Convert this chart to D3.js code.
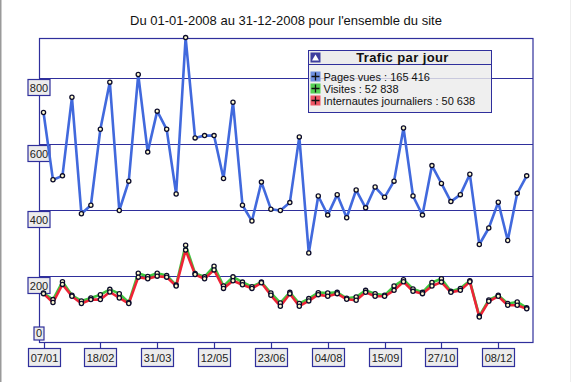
<!DOCTYPE html>
<html>
<head>
<meta charset="utf-8">
<script src="https://d3js.org/d3.v7.min.js"></script>
<style>
  body { margin: 0; background: #fff; }
  svg { display: block; font-family: "Liberation Sans", Arial, sans-serif; }
</style>
</head>
<body>
<svg></svg>
<script>
const width = 573, height = 382;

// weekly points, first monday 07/01/2008
const weeks = d3.timeMonday.range(new Date(2008, 0, 7), new Date(2009, 0, 1));
const pagesVues = [697,493,505,743,390,416,646,789,400,489,812,577,701,646,450,924,620,627,627,497,728,416,368,486,404,400,424,623,271,444,386,448,378,462,408,471,440,489,650,444,386,536,482,427,448,510,297,347,425,309,452,505];
const visites = [150,130,184,143,126,135,145,161,148,121,210,200,210,203,174,295,209,199,231,171,199,183,169,183,150,120,152,118,133,151,150,152,134,138,158,148,143,171,190,162,152,182,193,155,164,187,80,129,143,118,123,105];
const internautes = [148,121,176,140,118,130,130,153,135,118,198,193,201,198,171,280,206,193,220,164,187,175,164,181,143,110,148,110,126,145,140,148,131,128,152,140,140,158,184,155,148,171,183,152,158,184,77,125,140,113,113,102];

const xTickLabels = ["07/01","18/02","31/03","12/05","23/06","04/08","15/09","27/10","08/12"];
const yTicks = [0, 200, 400, 600, 800];
const legendTitle = "Trafic par jour";
const legendLabels = ["Pages vues : 165 416", "Visites : 52 838", "Internautes journaliers : 50 638"];
const title = "Du 01-01-2008 au 31-12-2008 pour l'ensemble du site";

const navy = "#2f2f9c";
const colors = { pages: "#4169dd", visites: "#3fc63f", internautes: "#ee2436" };
const legendColors = ["#7090e0", "#55d055", "#f05565"];

const svg = d3.select("svg").attr("width", width).attr("height", height);

// picture frame
svg.append("rect").attr("x", 0).attr("y", 0).attr("width", 1.5).attr("height", height).attr("fill", "#9a9a9a");
svg.append("line").attr("x1", 570.5).attr("x2", 570.5).attr("y1", 0).attr("y2", height).attr("stroke", "#eeeeee");

const x = d3.scaleTime()
    .domain([new Date(2008, 0, 3, 16), new Date(2009, 0, 2, 16)])
    .range([39, 533]);
const y = d3.scaleLinear()
    .domain([0, 921.2])
    .range([342.5, 38.5]);

svg.append("text")
    .attr("x", 286).attr("y", 25)
    .attr("text-anchor", "middle")
    .attr("font-size", 13).attr("fill", "#111")
    .text(title);

const plot = svg.append("g");

// border + grid
plot.append("rect")
    .attr("x", 39.5).attr("y", 38.5)
    .attr("width", 533 - 39.5).attr("height", 342.5 - 38.5)
    .attr("fill", "none").attr("stroke", navy).attr("stroke-width", 1.2);

plot.selectAll(".grid")
    .data(yTicks.filter(d => d > 0))
    .enter().append("line")
    .attr("x1", 39.5).attr("x2", 533)
    .attr("y1", d => y(d)).attr("y2", d => y(d))
    .attr("stroke", navy).attr("stroke-width", 1.2);

// x ticks with boxed labels
const parseDay = d3.timeParse("%d/%m/%Y");
const xt = plot.selectAll(".xtick")
    .data(xTickLabels)
    .enter().append("g")
    .attr("transform", d => `translate(${Math.round(x(parseDay(d + "/2008"))) + 0.5},0)`);
xt.append("line").attr("y1", 342.5).attr("y2", 348.5).attr("stroke", navy).attr("stroke-width", 1.2);
xt.append("rect").attr("x", -16).attr("y", 348.5).attr("width", 32).attr("height", 18)
    .attr("fill", "#ececec").attr("stroke", navy).attr("stroke-width", 1.2);
xt.append("text").attr("y", 361.5).attr("text-anchor", "middle")
    .attr("font-size", 11).attr("fill", "#222").text(d => d);

// y boxed labels
const yt = plot.selectAll(".ytick")
    .data(yTicks)
    .enter().append("g")
    .attr("transform", d => `translate(39.5,${y(d)})`);
yt.each(function (d) {
    const g = d3.select(this);
    const w = d === 0 ? 10 : 22;
    const h = d === 0 ? 13 : 16;
    const top = d === 0 ? -15.5 : 1;
    g.append("rect").attr("x", -w / 2 - 0.5).attr("y", top).attr("width", w).attr("height", h)
        .attr("fill", "#ececec").attr("stroke", navy).attr("stroke-width", 1.2);
    g.append("text").attr("x", -0.5).attr("y", top + h - 3.5).attr("text-anchor", "middle")
        .attr("font-size", 11).attr("fill", "#222").text(d);
});

// series
const series = [
    { key: "visites", values: visites },
    { key: "internautes", values: internautes },
    { key: "pages", values: pagesVues }
];
const line = d3.line().x((d, i) => x(weeks[i])).y(d => y(d));

series.forEach(s => {
    plot.append("path")
        .datum(s.values)
        .attr("d", line)
        .attr("fill", "none")
        .attr("stroke", colors[s.key])
        .attr("stroke-width", 2.6)
        .attr("stroke-linejoin", "round");
});
series.forEach(s => {
    plot.selectAll(".m-" + s.key)
        .data(s.values)
        .enter().append("circle")
        .attr("cx", (d, i) => x(weeks[i]))
        .attr("cy", d => y(d))
        .attr("r", 2.1)
        .attr("fill", "#fffbd0")
        .attr("stroke", "#0b0b2a")
        .attr("stroke-width", 1.3);
});

// legend
const lg = svg.append("g").attr("transform", "translate(308.5,50.5)");
lg.append("rect").attr("width", 183).attr("height", 62)
    .attr("fill", "#ececec").attr("fill-opacity", 0.82)
    .attr("stroke", navy).attr("stroke-width", 1);
lg.append("rect").attr("width", 183).attr("height", 14)
    .attr("fill", "#ececec").attr("stroke", navy).attr("stroke-width", 1);
lg.append("rect").attr("x", 2).attr("y", 2).attr("width", 10).attr("height", 10).attr("fill", "#3e3e9e");
lg.append("path").attr("d", "M7,4 L10.5,10 L3.5,10 Z").attr("fill", "#fff");
lg.append("text").attr("x", 94).attr("y", 11.5).attr("text-anchor", "middle")
    .attr("font-size", 13).attr("font-weight", "bold").attr("letter-spacing", 0.4)
    .attr("fill", "#111").text(legendTitle);

const items = lg.selectAll(".item")
    .data(legendLabels)
    .enter().append("g")
    .attr("transform", (d, i) => `translate(2,${21 + i * 12})`);
items.append("rect").attr("width", 10).attr("height", 10)
    .attr("fill", (d, i) => legendColors[i]);
items.append("path").attr("d", "M5,1 V9 M1,5 H9").attr("stroke", "#111").attr("stroke-width", 1.3);
items.append("text").attr("x", 13).attr("y", 9).attr("font-size", 11).attr("fill", "#111")
    .text(d => d);
</script>
</body>
</html>
